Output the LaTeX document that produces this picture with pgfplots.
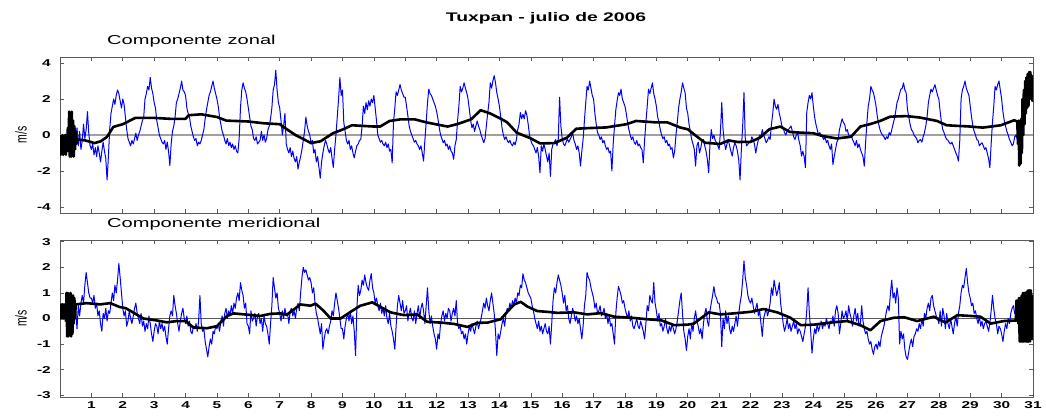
\documentclass[border=0pt]{standalone}
\usepackage{fontspec}
\setmainfont{Liberation Sans}[FakeStretch=1.55]
\newfontfamily\plainsans{Liberation Sans}
\usepackage{graphicx}
\usepackage{pgfplots}
\pgfplotsset{compat=1.18}
\definecolor{framegray}{RGB}{90,90,90}
\pgfplotsset{
  myaxis/.style={
    scale only axis, width=973bp,
    xmin=0, xmax=744,
    xtick={24,48,...,744},
    tick align=inside, major tick length=4bp,
    xtick pos=both, ytick pos=both,
    xticklabel pos=bottom, yticklabel pos=left,
    axis line style={framegray}, tick style={framegray, line width=0.6bp},
    /pgf/number format/assume math mode=true,
    tick label style={font=\bfseries\fontsize{10}{12}\selectfont},
    yticklabel style={inner sep=0pt, xshift=-9bp},
    xticklabel style={inner sep=0pt, yshift=-4.5bp, anchor=north},
    every axis y label/.style={at={(rel axis cs:0,0.5)}, xshift=-39bp, rotate=90, anchor=center},
    ylabel={\plainsans\fontsize{10.5}{12}\selectfont\scalebox{1}[1.5]{m/s}},
    title style={at={(0.0483,1)}, anchor=base west, yshift=6.3bp, inner sep=0pt, font=\fontsize{13}{15}\selectfont},
    clip=true,
  },
  blueline/.style={blue, line width=1.0bp, line join=round},
  blackline/.style={black, line width=2.6bp, line join=round},
}
\begin{document}
\begin{tikzpicture}
\useasboundingbox (0,0) rectangle (1046bp,416bp);
\node[anchor=base, inner sep=0pt, font=\bfseries\fontsize{12.5}{14}\selectfont] at (546bp,394.3bp) {Tuxpan - julio de 2006};
% ---------------- Componente zonal ----------------
\begin{axis}[myaxis, at={(60bp,203bp)}, anchor=south west, height=156bp,
  ymin=-4.335, ymax=4.335, ytick={-4,-2,0,2,4}, xticklabels={},
  title={Componente zonal}]
\addplot[color={rgb,255:red,160;green,160;blue,160}, line width=1.3bp] coordinates {(0,0) (744,0)};
\addplot[blueline] coordinates {
(12,-0.3) (13,0.4) (14,-0.6) (15,0.2) (16,-0.8) (17,-0.3) (18,0.6) (19,-0.2) (20,0.3) (21,1.3) (22,0.1) (23,-0.6)
(24,-0.8) (25,-0.5) (26,-1.1) (27,-0.7) (28,-1.2) (29,-0.6) (30,-1.0) (31,-1.5) (32,-0.9) (33,-0.4) (34,-0.9) (35,-1.3) (36,-2.5) (37,-1.2) (38,0.3) (39,1.2) (40,1.6) (41,2.0) (42,1.7) (43,2.2) (44,2.5) (45,2.3) (46,1.9) (47,1.5)
(48,2.0) (49,1.7) (50,1.0) (51,0.3) (52,-0.2) (53,-0.4) (54,-0.6) (55,-0.3) (56,-0.5) (57,-0.2) (58,0.1) (59,-0.3) (60,0.0) (61,0.2) (62,0.5) (63,0.8) (64,1.0) (65,2.0) (66,2.3) (67,2.7) (68,2.5) (69,3.2) (70,2.6) (71,2.3)
(72,1.8) (73,1.5) (74,0.8) (75,0.4) (76,0.0) (77,-0.2) (78,-0.4) (79,-0.5) (80,-0.3) (81,-0.8) (82,-0.4) (83,-0.9) (84,-1.7) (85,-0.5) (86,0.2) (87,0.5) (88,1.0) (89,1.8) (90,2.0) (91,2.3) (92,2.6) (93,3.0) (94,2.5) (95,2.4)
(96,2.2) (97,1.5) (98,1.2) (99,1.0) (100,0.5) (101,0.2) (102,-0.1) (103,-0.3) (104,-0.2) (105,-0.6) (106,-0.4) (107,-0.5) (108,-0.3) (109,0.0) (110,0.3) (111,0.9) (112,1.4) (113,1.8) (114,2.2) (115,2.4) (116,2.7) (117,3.0) (118,2.6) (119,2.3)
(120,2.0) (121,1.6) (122,1.0) (123,0.6) (124,0.2) (125,0.0) (126,-0.3) (127,-0.5) (128,-0.2) (129,-0.6) (130,-0.4) (131,-0.7) (132,-0.5) (133,-0.8) (134,-0.6) (135,-0.9) (136,-1.0) (137,-0.2) (138,1.5) (139,2.5) (140,2.9) (141,2.6) (142,2.4) (143,2.0)
(144,1.5) (145,1.0) (146,0.5) (147,0.3) (148,-0.2) (149,-0.3) (150,-0.1) (151,-0.5) (152,-0.4) (153,-0.3) (154,0.2) (155,-0.3) (156,0.0) (157,-0.4) (158,-0.2) (159,0.3) (160,0.5) (161,0.9) (162,1.5) (163,2.5) (164,2.8) (165,3.6) (166,2.5) (167,1.8)
(168,1.5) (169,0.8) (170,0.0) (171,0.5) (172,1.2) (173,-0.5) (174,-0.8) (175,-1.0) (176,-0.7) (177,-1.2) (178,-0.9) (179,-1.3) (180,-1.5) (181,-1.2) (182,-1.9) (183,-1.5) (184,-1.2) (185,-0.8) (186,-0.3) (187,0.2) (188,1.0) (189,0.5) (190,0.2) (191,0.0)
(192,-0.5) (193,-0.3) (194,-1.0) (195,-0.8) (196,-1.5) (197,-1.2) (198,-1.8) (199,-2.4) (200,-1.5) (201,-1.0) (202,-0.6) (203,-0.3) (204,-0.5) (205,-0.8) (206,-1.0) (207,-0.7) (208,-1.3) (209,-1.8) (210,-0.8) (211,0.0) (212,1.0) (213,2.0) (214,3.2) (215,2.2)
(216,2.5) (217,0.7) (218,0.2) (219,-0.3) (220,-0.5) (221,-0.3) (222,-0.8) (223,-0.6) (224,-1.0) (225,-1.27) (226,-0.9) (227,-0.6) (228,-0.5) (229,-0.3) (230,-0.25) (231,0.5) (232,1.6) (233,1.2) (234,1.8) (235,1.4) (236,1.9) (237,1.6) (238,2.0) (239,1.8)
(240,2.2) (241,1.5) (242,0.8) (243,0.0) (244,-0.2) (245,-0.4) (246,-0.3) (247,-0.5) (248,-0.6) (249,-0.4) (250,-0.7) (251,-0.5) (252,-0.9) (253,-0.8) (254,-1.55) (255,0.7) (256,1.5) (257,2.4) (258,2.2) (259,2.5) (260,2.8) (261,2.5) (262,2.3) (263,2.1)
(264,2.1) (265,1.6) (266,1.06) (267,0.5) (268,0.2) (269,0.0) (270,-0.2) (271,-0.4) (272,-0.3) (273,-0.5) (274,-0.6) (275,-0.8) (276,-0.6) (277,-1.0) (278,-1.45) (279,-0.3) (280,0.7) (281,1.8) (282,2.55) (283,2.3) (284,2.2) (285,2.0) (286,1.8) (287,1.6)
(288,1.3) (289,0.9) (290,0.4) (291,0.0) (292,-0.2) (293,-0.43) (294,-0.3) (295,-0.6) (296,-0.5) (297,-0.8) (298,-0.6) (299,-0.9) (300,-1.0) (301,-1.35) (302,-0.6) (303,-0.25) (304,0.8) (305,1.6) (306,2.7) (307,2.4) (308,2.6) (309,2.9) (310,2.6) (311,2.35)
(312,2.0) (313,1.43) (314,0.8) (315,0.4) (316,0.6) (317,0.2) (318,0.5) (319,0.78) (320,0.5) (321,0.3) (322,0.0) (323,-0.2) (324,-0.43) (325,-0.2) (326,0.5) (327,1.2) (328,1.8) (329,2.9) (330,2.6) (331,3.0) (332,3.3) (333,2.9) (334,2.35) (335,2.0)
(336,1.6) (337,1.0) (338,0.4) (339,0.0) (340,-0.25) (341,-0.1) (342,-0.3) (343,-0.43) (344,-0.3) (345,-0.5) (346,-0.6) (347,-0.4) (348,-0.55) (349,-0.25) (350,0.3) (351,0.6) (352,1.25) (353,0.9) (354,1.15) (355,0.9) (356,1.35) (357,1.1) (358,0.6) (359,0.0)
(360,-0.3) (361,-0.5) (362,-0.6) (363,-0.8) (364,-1.0) (365,-0.7) (366,-1.2) (367,-2.1) (368,-0.6) (369,-0.9) (370,-0.5) (371,-0.8) (372,-1.17) (373,-1.5) (374,-1.0) (375,-2.3) (376,-0.8) (377,-0.5) (378,-0.4) (379,-0.25) (380,-0.6) (381,-0.2) (382,2.1) (383,0.5)
(384,-0.2) (385,-0.5) (386,-0.6) (387,-0.4) (388,-0.2) (389,-0.4) (390,-0.25) (391,-0.1) (392,0.13) (393,-0.3) (394,-0.5) (395,-0.8) (396,-0.6) (397,-1.0) (398,-1.73) (399,-0.9) (400,-0.25) (401,0.8) (402,1.8) (403,2.7) (404,2.5) (405,3.0) (406,2.6) (407,2.2)
(408,2.0) (409,1.2) (410,0.6) (411,0.13) (412,0.0) (413,-0.25) (414,-0.1) (415,-0.43) (416,-0.3) (417,-0.6) (418,-0.8) (419,-0.7) (420,-1.0) (421,-0.9) (422,-2.0) (423,-0.5) (424,0.5) (425,1.4) (426,1.9) (427,2.35) (428,2.2) (429,2.55) (430,2.0) (431,1.8)
(432,1.6) (433,1.2) (434,0.7) (435,0.3) (436,0.0) (437,-0.25) (438,-0.1) (439,-0.4) (440,-0.52) (441,-0.3) (442,-0.6) (443,-0.5) (444,-0.7) (445,-0.8) (446,-1.55) (447,-0.3) (448,0.7) (449,1.6) (450,2.55) (451,2.3) (452,2.6) (453,2.9) (454,2.3) (455,2.0)
(456,1.6) (457,1.0) (458,0.7) (459,0.3) (460,0.0) (461,-0.2) (462,-0.1) (463,-0.43) (464,-0.3) (465,-0.6) (466,-0.5) (467,-0.8) (468,-0.7) (469,-1.27) (470,-0.9) (471,0.0) (472,0.7) (473,1.5) (474,2.0) (475,2.4) (476,2.9) (477,2.6) (478,2.35) (479,1.5)
(480,1.2) (481,0.6) (482,0.2) (483,-0.25) (484,-0.5) (485,-0.8) (486,-1.73) (487,-0.6) (488,-0.4) (489,-1.0) (490,-0.7) (491,-0.3) (492,-0.25) (493,-0.6) (494,-0.9) (495,-1.36) (496,-2.1) (497,-0.5) (498,0.3) (499,-0.2) (500,0.0) (501,-0.3) (502,-0.43) (503,-0.6)
(504,-0.8) (505,0.2) (506,1.8) (507,0.3) (508,-0.4) (509,-0.8) (510,-0.5) (511,-0.25) (512,-0.6) (513,-0.9) (514,-1.17) (515,-0.7) (516,-0.43) (517,-0.6) (518,-0.9) (519,-1.4) (520,-2.5) (521,-0.8) (522,0.5) (523,2.35) (524,-0.25) (525,-0.6) (526,-0.5) (527,-0.43)
(528,-0.43) (529,-0.1) (530,-0.25) (531,-0.5) (532,-1.0) (533,-0.6) (534,-0.25) (535,0.0) (536,-0.1) (537,0.3) (538,0.0) (539,-0.2) (540,-0.43) (541,-0.3) (542,-0.1) (543,-0.25) (544,0.6) (545,1.2) (546,2.0) (547,1.6) (548,1.43) (549,1.7) (550,1.2) (551,0.9)
(552,0.5) (553,0.4) (554,0.13) (555,0.0) (556,0.2) (557,0.3) (558,0.4) (559,0.5) (560,0.2) (561,-0.1) (562,-0.25) (563,0.0) (564,0.13) (565,-0.3) (566,-0.6) (567,-1.17) (568,-0.9) (569,-1.2) (570,-1.82) (571,1.25) (572,1.8) (573,2.2) (574,2.0) (575,2.35)
(576,1.6) (577,1.0) (578,0.6) (579,0.3) (580,0.0) (581,0.13) (582,0.0) (583,-0.1) (584,-0.25) (585,-0.1) (586,-0.43) (587,-0.3) (588,-0.6) (589,-0.8) (590,-0.5) (591,-1.64) (592,-1.2) (593,-0.8) (594,-0.4) (595,-0.25) (596,0.3) (597,0.6) (598,0.9) (599,0.7)
(600,0.6) (601,0.2) (602,0.3) (603,0.0) (604,-0.1) (605,0.0) (606,-0.25) (607,-0.4) (608,-0.6) (609,-0.3) (610,-0.7) (611,-0.5) (612,-0.8) (613,-1.0) (614,-1.2) (615,-1.73) (616,-0.4) (617,0.7) (618,1.6) (619,2.0) (620,2.7) (621,2.5) (622,2.35) (623,2.0)
(624,1.6) (625,1.0) (626,0.6) (627,0.3) (628,0.1) (629,0.0) (630,-0.1) (631,-0.25) (632,-0.1) (633,-0.2) (634,0.13) (635,0.0) (636,0.3) (637,0.6) (638,0.9) (639,1.3) (640,1.8) (641,2.0) (642,2.3) (643,2.55) (644,2.6) (645,2.9) (646,2.5) (647,2.35)
(648,1.43) (649,1.0) (650,0.6) (651,0.3) (652,0.2) (653,0.0) (654,-0.1) (655,-0.2) (656,-0.43) (657,-0.3) (658,-0.25) (659,-0.4) (660,-0.1) (661,0.13) (662,0.5) (663,1.0) (664,1.8) (665,2.2) (666,2.55) (667,2.4) (668,2.6) (669,2.8) (670,2.5) (671,2.2)
(672,2.0) (673,1.3) (674,0.7) (675,0.3) (676,0.13) (677,-0.1) (678,-0.25) (679,-0.3) (680,-0.43) (681,-0.5) (682,-0.4) (683,-0.6) (684,-0.8) (685,-1.0) (686,-1.17) (687,-1.45) (688,-0.3) (689,2.0) (690,2.5) (691,2.7) (692,3.0) (693,2.6) (694,2.4) (695,2.2)
(696,1.6) (697,1.0) (698,0.5) (699,0.2) (700,0.0) (701,-0.25) (702,-0.3) (703,-0.6) (704,-0.5) (705,-0.43) (706,-0.6) (707,-0.8) (708,-0.7) (709,-1.0) (710,-1.3) (711,-1.82) (712,-0.5) (713,0.7) (714,1.6) (715,2.7) (716,2.5) (717,2.8) (718,3.0) (719,2.5)
(720,2.0) (721,1.3) (722,0.8) (723,0.5) (724,0.2) (725,0.0) (726,-0.25) (727,-0.4) (728,-0.6) (729,-0.5) (730,-0.1) (731,0.0) (732,-0.25)
};
\addplot[blackline] coordinates {
(0,0) (0.5,-1.1) (1,-0.1) (1.5,-1.0) (2,0.0) (2.5,-1.1) (3,-0.2) (3.5,-0.9) (4,0.0) (4.5,-1.1) (5,-0.3) (5.5,-0.8) (6,0.4) (6.5,-0.9) (7,1.3) (7.5,-1.2) (8,1.2) (8.5,-1.2) (9,1.3) (9.5,-0.9) (10,0.8) (10.5,-1.2) (11,0.5) (11.5,-0.8) (12,0.2) (12.5,-0.5)
(13.2,-0.25) (19.2,-0.3) (26.4,-0.45) (31.2,-0.35) (36,-0.1) (40.8,0.45) (48,0.6) (57.6,0.95) (72,0.95) (84,0.9) (96,0.9) (98.4,1.1) (108,1.15) (120,1.0) (127.2,0.8) (144,0.75) (156,0.65) (168,0.6) (172.8,0.35) (180,0.0) (192,-0.45) (199.2,-0.35) (208.8,0.1) (216,0.3) (223.2,0.54) (240,0.47) (244.8,0.47) (252,0.78) (260.4,0.87) (271.2,0.87) (280.8,0.69) (296.4,0.47) (303.6,0.6) (314.4,0.87) (321.6,1.38) (328.8,1.2) (337.2,0.9) (342,0.7) (349.2,0.13) (360,-0.19) (367.2,-0.47) (378,-0.45) (387.6,-0.15) (394.8,0.35) (403.2,0.38) (417.6,0.42) (433.2,0.6) (440.4,0.78) (456,0.7) (464.4,0.7) (474.5,0.41) (480,0.32) (484.8,0.04) (493.2,-0.43) (504.7,-0.5) (511.2,-0.3) (518.4,-0.39) (528,-0.38) (535.2,-0.15) (542.4,0.32) (550.8,0.47) (558,0.17) (566.4,0.13) (576,0.1) (583.2,-0.06) (594,-0.19) (604.8,-0.1) (612,0.47) (619.2,0.6) (627.1,0.78) (634.8,1.02) (647.3,1.05) (657.6,0.97) (670.6,0.78) (678,0.54) (696,0.47) (705.6,0.41) (719.3,0.54) (729.6,0.82) (732,0.75)
(732.5,-0.5) (733,0.8) (733.5,-1.7) (734,0.6) (734.5,-1.6) (735,0.9) (735.5,-1.0) (736,2.0) (736.5,0.0) (737,2.5) (737.5,0.6) (738,3.0) (738.5,1.2) (739,3.2) (739.5,1.5) (740,3.4) (740.5,1.6) (741,3.5) (741.5,2.0) (742,3.5) (742.5,2.2) (743,3.3) (743.5,1.9) (744,3.0)
};
\end{axis}
% ---------------- Componente meridional ----------------
\begin{axis}[myaxis, at={(60bp,19bp)}, anchor=south west, height=157bp,
  ymin=-3.067, ymax=3.067, ytick={-3,-2,-1,0,1,2,3},
  xticklabels={1,2,3,4,5,6,7,8,9,10,11,12,13,14,15,16,17,18,19,20,21,22,23,24,25,26,27,28,29,30,31},
  title={Componente meridional}]
\addplot[color={rgb,255:red,90;green,90;blue,90}, line width=0.7bp] coordinates {(0,0) (744,0)};
\addplot[blueline] coordinates {
(12,0.3) (13,-0.4) (14,0.5) (15,0.1) (16,0.6) (17,0.9) (18,0.6) (19,1.3) (20,1.8) (21,1.4) (22,1.0) (23,0.8)
(24,0.8) (25,0.6) (26,0.9) (27,0.4) (28,0.6) (29,0.1) (30,0.3) (31,-0.2) (32,-0.5) (33,0.2) (34,0.0) (35,0.4) (36,-0.1) (37,0.3) (38,0.2) (39,0.6) (40,1.0) (41,0.7) (42,1.3) (43,1.0) (44,1.5) (45,2.15) (46,1.6) (47,1.0)
(48,0.4) (49,0.1) (50,0.3) (51,-0.3) (52,-0.1) (53,0.3) (54,0.0) (55,-0.2) (56,0.1) (57,0.4) (58,0.6) (59,0.2) (60,0.0) (61,-0.2) (62,0.2) (63,-0.3) (64,-0.1) (65,-0.5) (66,-0.2) (67,-0.4) (68,0.1) (69,-0.2) (70,-0.6) (71,-0.9)
(72,-0.5) (73,-0.2) (74,-0.3) (75,-0.6) (76,-0.1) (77,-0.4) (78,-0.2) (79,-0.5) (80,-0.3) (81,-0.7) (82,-1.0) (83,-0.4) (84,0.1) (85,0.3) (86,0.1) (87,0.9) (88,0.5) (89,0.2) (90,-0.2) (91,-0.5) (92,-0.1) (93,0.2) (94,0.4) (95,0.0)
(96,-0.2) (97,0.1) (98,-0.3) (99,-0.1) (100,-0.5) (101,-0.6) (102,-0.3) (103,-0.4) (104,-0.2) (105,-0.5) (106,-0.1) (107,0.9) (108,-0.2) (109,-0.5) (110,-0.4) (111,-0.9) (112,-1.2) (113,-1.5) (114,-1.1) (115,-0.8) (116,-1.0) (117,-0.5) (118,-0.6) (119,-0.3)
(120,-0.4) (121,-0.2) (122,-0.5) (123,-0.1) (124,0.1) (125,-0.3) (126,0.2) (127,0.4) (128,0.0) (129,0.3) (130,0.1) (131,0.5) (132,0.2) (133,0.6) (134,0.4) (135,0.8) (136,1.0) (137,0.7) (138,1.4) (139,1.1) (140,0.9) (141,0.4) (142,0.6) (143,-0.2)
(144,-0.3) (145,-0.6) (146,0.3) (147,-0.1) (148,0.0) (149,0.2) (150,-0.3) (151,0.1) (152,0.2) (153,-0.2) (154,0.0) (155,-0.5) (156,0.1) (157,-0.2) (158,-0.3) (159,-0.6) (160,-1.0) (161,-0.2) (162,0.5) (163,1.6) (164,1.2) (165,0.8) (166,1.0) (167,0.4)
(168,0.2) (169,-0.1) (170,0.3) (171,0.0) (172,0.4) (173,0.1) (174,0.2) (175,-0.2) (176,0.3) (177,0.4) (178,0.1) (179,0.3) (180,0.0) (181,0.4) (182,0.6) (183,0.3) (184,1.0) (185,1.6) (186,2.0) (187,1.8) (188,1.9) (189,1.7) (190,1.5) (191,1.6)
(192,1.4) (193,1.0) (194,1.2) (195,0.6) (196,0.2) (197,0.0) (198,-0.3) (199,-0.6) (200,-0.2) (201,-1.2) (202,-0.8) (203,-0.5) (204,-0.4) (205,-0.6) (206,-0.3) (207,-0.1) (208,0.3) (209,0.1) (210,0.6) (211,1.0) (212,0.7) (213,0.4) (214,0.0) (215,-0.4)
(216,-0.4) (217,-0.8) (218,-0.3) (219,0.0) (220,0.2) (221,-0.1) (222,0.3) (223,-0.2) (224,0.1) (225,-0.5) (226,-1.45) (227,0.4) (228,1.3) (229,0.9) (230,1.1) (231,1.5) (232,1.3) (233,1.7) (234,1.4) (235,1.2) (236,1.1) (237,1.5) (238,1.75) (239,1.2)
(240,1.0) (241,0.6) (242,0.8) (243,0.5) (244,0.3) (245,0.6) (246,0.2) (247,0.4) (248,0.1) (249,0.5) (250,0.0) (251,-0.2) (252,0.2) (253,-0.3) (254,-0.5) (255,-0.8) (256,-1.2) (257,-0.3) (258,0.5) (259,0.9) (260,0.6) (261,0.3) (262,0.7) (263,0.2)
(264,0.3) (265,0.5) (266,-0.1) (267,0.2) (268,0.4) (269,0.0) (270,-0.1) (271,0.3) (272,-0.2) (273,0.2) (274,0.5) (275,0.0) (276,0.4) (277,0.6) (278,0.3) (279,-0.2) (280,0.5) (281,1.2) (282,0.3) (283,-0.2) (284,0.1) (285,-0.3) (286,-0.6) (287,-0.8)
(288,-1.2) (289,-0.6) (290,-0.8) (291,-0.2) (292,0.1) (293,0.3) (294,-0.1) (295,0.2) (296,0.0) (297,0.4) (298,0.3) (299,-0.1) (300,0.2) (301,0.4) (302,0.1) (303,0.7) (304,-0.2) (305,-0.4) (306,-0.3) (307,-0.6) (308,-0.5) (309,-0.8) (310,-0.6) (311,-1.0)
(312,-0.6) (313,-0.3) (314,-0.5) (315,-0.2) (316,-0.4) (317,-0.6) (318,-0.3) (319,-0.1) (320,-0.4) (321,-0.2) (322,0.0) (323,0.3) (324,0.6) (325,0.4) (326,0.8) (327,0.5) (328,0.3) (329,0.7) (330,1.0) (331,0.6) (332,0.2) (333,-0.5) (334,-1.45) (335,-0.6)
(336,-0.8) (337,-0.5) (338,-0.2) (339,0.0) (340,-0.3) (341,0.2) (342,0.4) (343,0.3) (344,0.6) (345,0.4) (346,0.7) (347,0.5) (348,0.8) (349,0.6) (350,1.0) (351,0.9) (352,1.3) (353,1.2) (354,1.75) (355,1.5) (356,1.4) (357,1.2) (358,1.0) (359,0.9)
(360,0.8) (361,0.5) (362,0.3) (363,0.0) (364,-0.2) (365,-0.4) (366,-0.1) (367,-0.5) (368,-0.3) (369,-0.6) (370,-0.4) (371,-0.2) (372,-0.5) (373,-0.6) (374,-0.3) (375,-1.0) (376,-0.2) (377,0.7) (378,1.2) (379,1.0) (380,1.4) (381,1.7) (382,1.5) (383,1.3)
(384,1.0) (385,0.6) (386,0.9) (387,0.3) (388,0.5) (389,0.0) (390,-0.2) (391,0.1) (392,0.4) (393,0.2) (394,-0.1) (395,0.1) (396,-0.2) (397,0.0) (398,-0.4) (399,-0.8) (400,-0.3) (401,0.5) (402,0.9) (403,1.8) (404,1.6) (405,1.5) (406,1.2) (407,1.0)
(408,0.8) (409,0.4) (410,0.6) (411,0.2) (412,0.3) (413,0.5) (414,0.1) (415,0.2) (416,0.4) (417,0.0) (418,0.2) (419,-0.2) (420,0.1) (421,-0.3) (422,-0.2) (423,-0.6) (424,-1.0) (425,0.2) (426,0.8) (427,1.25) (428,1.1) (429,0.9) (430,0.6) (431,0.7)
(432,0.4) (433,0.2) (434,0.0) (435,0.3) (436,-0.1) (437,0.1) (438,-0.3) (439,-0.4) (440,-0.2) (441,0.0) (442,-0.3) (443,-0.4) (444,-0.1) (445,-0.3) (446,-0.5) (447,-0.8) (448,-0.2) (449,0.5) (450,0.3) (451,0.9) (452,0.7) (453,0.6) (454,1.4) (455,0.6)
(456,0.3) (457,-0.1) (458,0.2) (459,-0.3) (460,-0.2) (461,-0.5) (462,-0.3) (463,0.0) (464,-0.4) (465,-0.6) (466,-0.3) (467,-0.5) (468,-0.2) (469,-0.4) (470,-0.6) (471,-0.4) (472,-0.1) (473,0.3) (474,0.7) (475,1.0) (476,0.2) (477,-0.5) (478,-0.8) (479,-1.25)
(480,-0.7) (481,-0.4) (482,-0.8) (483,-0.2) (484,-0.5) (485,0.0) (486,0.3) (487,-0.1) (488,-0.3) (489,-0.6) (490,-0.4) (491,-0.8) (492,-0.2) (493,0.2) (494,0.4) (495,-0.1) (496,-0.3) (497,0.3) (498,0.6) (499,0.9) (500,1.25) (501,0.9) (502,0.8) (503,0.6)
(504,0.6) (505,0.2) (506,-1.1) (507,0.0) (508,-0.4) (509,0.3) (510,-0.2) (511,0.1) (512,-0.4) (513,-0.6) (514,-0.3) (515,-0.5) (516,-0.2) (517,0.1) (518,-0.3) (519,0.2) (520,0.6) (521,0.9) (522,1.5) (523,2.25) (524,1.6) (525,1.3) (526,0.9) (527,0.7)
(528,0.6) (529,0.8) (530,0.5) (531,0.2) (532,0.4) (533,0.6) (534,0.1) (535,0.3) (536,-0.2) (537,-0.7) (538,0.0) (539,0.2) (540,0.4) (541,0.1) (542,0.3) (543,0.6) (544,1.2) (545,0.9) (546,1.5) (547,1.2) (548,0.9) (549,1.1) (550,1.4) (551,0.6)
(552,0.2) (553,-0.2) (554,-0.5) (555,-0.3) (556,0.0) (557,-0.4) (558,-0.2) (559,-0.5) (560,-0.3) (561,-0.1) (562,-0.4) (563,-0.2) (564,-0.6) (565,-0.4) (566,-0.5) (567,-0.7) (568,-0.9) (569,-0.6) (570,-0.3) (571,0.3) (572,1.2) (573,0.2) (574,-0.5) (575,-1.35)
(576,-0.8) (577,-0.4) (578,-0.6) (579,-0.2) (580,-0.5) (581,-0.3) (582,-0.1) (583,-0.4) (584,-0.2) (585,-0.3) (586,0.0) (587,-0.2) (588,-0.4) (589,-0.1) (590,-0.2) (591,0.1) (592,-0.3) (593,0.3) (594,0.5) (595,0.2) (596,-0.6) (597,-0.2) (598,0.3) (599,0.0)
(600,0.1) (601,0.3) (602,-0.1) (603,0.5) (604,0.2) (605,0.0) (606,-0.3) (607,0.1) (608,0.4) (609,-0.1) (610,0.2) (611,-0.3) (612,-0.2) (613,0.5) (614,-0.1) (615,-0.4) (616,-0.6) (617,-0.5) (618,-0.8) (619,-1.0) (620,-0.9) (621,-1.2) (622,-1.4) (623,-1.1)
(624,-1.0) (625,-1.2) (626,-0.9) (627,-1.1) (628,-0.7) (629,-0.5) (630,-0.3) (631,0.0) (632,0.3) (633,0.5) (634,0.3) (635,1.0) (636,1.5) (637,0.8) (638,1.0) (639,0.6) (640,1.2) (641,0.8) (642,-1.0) (643,-0.5) (644,-0.8) (645,-0.6) (646,-1.2) (647,-1.5)
(648,-1.6) (649,-1.3) (650,-1.0) (651,-0.8) (652,-1.1) (653,-0.7) (654,-0.6) (655,-0.4) (656,-0.5) (657,-0.2) (658,-0.4) (659,0.0) (660,-0.3) (661,0.2) (662,0.0) (663,0.4) (664,0.6) (665,0.3) (666,0.8) (667,0.9) (668,0.5) (669,0.3) (670,0.1) (671,0.0)
(672,-0.2) (673,0.3) (674,-0.3) (675,0.4) (676,0.1) (677,-0.4) (678,0.2) (679,-0.2) (680,-0.4) (681,0.0) (682,-0.3) (683,-0.6) (684,-0.2) (685,0.1) (686,-0.3) (687,0.2) (688,0.5) (689,1.0) (690,1.3) (691,1.2) (692,1.6) (693,1.95) (694,1.4) (695,1.0)
(696,0.8) (697,0.5) (698,0.6) (699,0.2) (700,0.3) (701,0.0) (702,-0.2) (703,0.1) (704,-0.3) (705,-0.1) (706,-0.4) (707,-0.2) (708,-0.1) (709,-0.3) (710,-0.5) (711,-0.2) (712,0.3) (713,0.9) (714,0.4) (715,0.0) (716,-0.2) (717,-0.6) (718,-0.3) (719,-0.4)
(720,-0.6) (721,-0.9) (722,-0.5) (723,-0.2) (724,-0.4) (725,0.0) (726,-0.2) (727,0.2) (728,0.4) (729,0.5) (730,0.2) (731,0.3)
};
\addplot[blackline] coordinates {
(0,0.5) (0.5,0.0) (1,0.55) (1.5,0.0) (2,0.55) (2.5,0.0) (3,0.55) (3.5,0.0) (4,0.5) (4.5,-0.1) (5,1.0) (5.5,-0.7) (6,1.0) (6.5,-0.7) (7,0.95) (7.5,-0.65) (8,1.0) (8.5,-0.7) (9,0.9) (9.5,-0.6) (10,0.9) (10.5,-0.2) (11,0.8) (11.5,0.0)
(12,0.55) (20.4,0.6) (30.7,0.55) (38.4,0.6) (45.6,0.45) (50.4,0.4) (58.8,0.15) (63.8,0.0) (74.4,-0.08) (81.6,-0.15) (89.3,-0.1) (96,-0.1) (102,-0.35) (112.3,-0.38) (120,-0.3) (127.7,0.1) (132.7,0.2) (143,0.15) (153.1,0.1) (160.8,0.18) (168.5,0.2) (173.5,0.15) (178.8,0.35) (183.8,0.55) (191.5,0.5) (195.4,0.58) (201.6,0.3) (206.9,0.0) (214.6,0.0) (222.2,0.26) (229.7,0.5) (238.8,0.63) (244.8,0.46) (252.7,0.24) (263,0.13) (273.1,0.16) (280.8,-0.13) (291.1,-0.16) (301.2,-0.21) (311.5,-0.33) (319.2,-0.17) (326.9,-0.16) (337,-0.03) (342,0.26) (347.3,0.55) (352.3,0.65) (357.6,0.46) (365,0.29) (372.7,0.26) (380.4,0.22) (393.1,0.24) (403.2,0.16) (413.5,0.21) (423.8,0.07) (436.8,0.03) (449.3,-0.03) (459.6,-0.07) (469.7,-0.26) (480,-0.24) (484.6,-0.2) (496.1,0.24) (505,0.16) (515.3,0.2) (528,0.26) (538.1,0.37) (548.4,0.24) (558.5,0.03) (566.4,-0.26) (576.5,-0.24) (589.2,-0.16) (601.9,-0.1) (612,-0.26) (619.7,-0.46) (627.4,-0.1) (637.7,0.03) (645.4,0.05) (655.4,-0.1) (668.2,0.07) (677,-0.16) (686.2,0.13) (696.2,0.1) (703.9,0.07) (711.6,-0.2) (721.7,-0.1) (730.8,-0.08)
(731.3,0.7) (731.8,-0.1) (732.3,0.7) (732.8,-0.2) (733.3,0.8) (733.8,-0.9) (734.3,0.8) (734.8,-0.9) (735.3,0.9) (735.8,-0.9) (736.3,1.0) (736.8,-0.9) (737.3,1.0) (737.8,-0.9) (738.3,1.0) (738.8,-0.9) (739.3,1.05) (739.8,-0.9) (740.3,1.1) (740.8,-0.9) (741.3,1.1) (741.8,-0.9) (742.3,1.1) (742.8,-0.8) (743.3,0.9) (743.8,-0.8) (744,0.5)
};
\end{axis}
\end{tikzpicture}
\end{document}
